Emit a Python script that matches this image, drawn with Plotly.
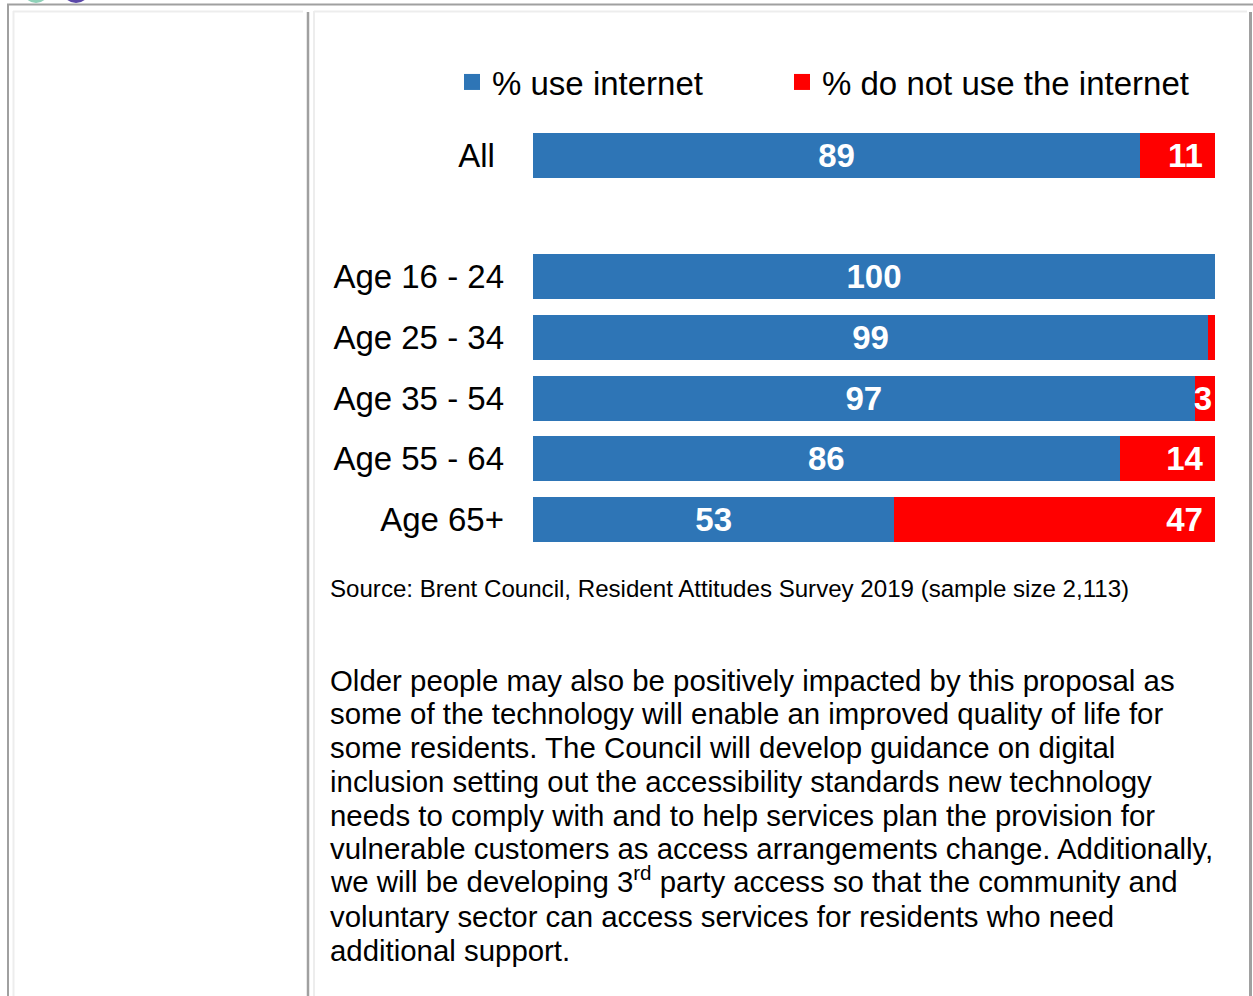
import plotly.graph_objects as go

# ---- data ----
categories = ["All", "Age 16 - 24", "Age 25 - 34", "Age 35 - 54", "Age 55 - 64", "Age 65+"]
row_pos = [0, 2, 3, 4, 5, 6]          # blank slot between "All" and the age bands
use_internet = [89, 100, 99, 97, 86, 53]
no_internet = [11, 0, 1, 3, 14, 47]
series_names = ["% use internet", "% do not use the internet"]

source_note = "Source: Brent Council, Resident Attitudes Survey 2019 (sample size 2,113)"
body_lines = [
    "Older people may also be positively impacted by this proposal as",
    "some of the technology will enable an improved quality of life for",
    "some residents. The Council will develop guidance on digital",
    "inclusion setting out the accessibility standards new technology",
    "needs to comply with and to help services plan the provision for",
    "vulnerable customers as access arrangements change. Additionally,",
    "we will be developing 3<sup>rd</sup> party access so that the community and",
    "voluntary sector can access services for residents who need",
    "additional support.",
]

# ---- page geometry ----
W, H = 1253, 996
FONT = "Arial, Liberation Sans, sans-serif"
BLUE = "#2E75B6"
RED = "#FF0000"
NBSP = "\u00a0"


def px(x):
    return x / W


def py(y):
    return 1 - y / H


def blue_label(v):
    return str(v)


def red_label(v):
    if v <= 1:
        return ""
    return str(v) if v < 10 else str(v) + NBSP


fig = go.Figure()

fig.add_trace(go.Bar(
    y=row_pos, x=use_internet, orientation="h", name=series_names[0],
    marker=dict(color=BLUE, line=dict(width=0)), width=0.742,
    text=[blue_label(v) for v in use_internet], textposition="inside",
    insidetextanchor="middle", textangle=0,
    textfont=dict(family=FONT, size=33, color="white", weight="bold"),
    showlegend=False, hoverinfo="skip", cliponaxis=False,
))
fig.add_trace(go.Bar(
    y=row_pos, x=no_internet, orientation="h", name=series_names[1],
    marker=dict(color=RED, line=dict(width=0)), width=0.742,
    text=[red_label(v) for v in no_internet], textposition="inside",
    insidetextanchor="end", textangle=0,
    textfont=dict(family=FONT, size=33, color="white", weight="bold"),
    showlegend=False, hoverinfo="skip", cliponaxis=False,
))

# legend entries (square swatches)
for name, col, lg in [(series_names[0], BLUE, "legend"), (series_names[1], RED, "legend2")]:
    fig.add_trace(go.Scatter(
        x=[None], y=[None], mode="markers", name=name, legend=lg,
        marker=dict(symbol="square", size=16, color=col),
        hoverinfo="skip",
    ))

fig.update_layout(
    width=W, height=H,
    margin=dict(l=0, r=0, t=0, b=0),
    paper_bgcolor="white", plot_bgcolor="white",
    barmode="stack", bargap=0,
    uniformtext=dict(minsize=33, mode="show"),
    font=dict(family=FONT, color="black"),
    xaxis=dict(domain=[px(533), px(1215)], range=[0, 100], visible=False, fixedrange=True),
    yaxis=dict(
        domain=[py(549.83), py(125.17)], range=[6.5, -0.5],
        tickvals=row_pos,
        ticktext=[c + NBSP if c == "All" else c for c in categories],
        tickfont=dict(family=FONT, size=33, color="black"),
        ticks="", showgrid=False, zeroline=False, showline=False,
        ticklabelstandoff=28, fixedrange=True,
    ),
    legend=dict(
        x=px(452), y=py(82), xanchor="left", yanchor="middle",
        orientation="h", font=dict(family=FONT, size=33, color="black"),
        bgcolor="rgba(0,0,0,0)", borderwidth=0,
    ),
    legend2=dict(
        x=px(782), y=py(82), xanchor="left", yanchor="middle",
        orientation="h", font=dict(family=FONT, size=33, color="black"),
        bgcolor="rgba(0,0,0,0)", borderwidth=0,
    ),
)

# ---- page frame: outer box, column divider, light cell borders ----
DARK = "#A0A0A0"
LIGHT = "#EDEDED"
frame = [
    (7, 4.5, W, 4.5, DARK, 2),
    (8, 4, 8, H, DARK, 2),
    (1250.5, 12, 1250.5, H, DARK, 3),
    (308, 12, 308, H, DARK, 2.5),
    (13, 11.5, 303, 11.5, LIGHT, 2),
    (314, 11.5, 1247, 11.5, LIGHT, 2),
    (13.5, 11, 13.5, H, LIGHT, 2),
    (314, 11, 314, H, LIGHT, 2),
]
for x0, y0, x1, y1, col, w in frame:
    fig.add_shape(type="line", xref="paper", yref="paper",
                  x0=px(x0), y0=py(y0), x1=px(x1), y1=py(y1),
                  line=dict(color=col, width=w), layer="above")

# logo edge peeking in at the top of the page
for x0, x1, col in [(23, 49, "#8FD1B8"), (62, 90, "#5A47A8")]:
    fig.add_shape(type="circle", xref="paper", yref="paper",
                  x0=px(x0), x1=px(x1), y0=py(3), y1=py(3 - (x1 - x0)),
                  fillcolor=col, line=dict(width=0), layer="above")

# ---- source note and body text ----
fig.add_annotation(text=source_note, xref="paper", yref="paper",
                   x=px(328), y=py(588), xanchor="left", yanchor="middle",
                   showarrow=False, font=dict(family=FONT, size=24.1, color="black"))

for i, line in enumerate(body_lines):
    yc = 680 + i * 33.75
    if "<sup>" in line:
        yc -= 3  # superscript makes the text box taller; keep the baseline on the grid
    fig.add_annotation(text=line, xref="paper", yref="paper",
                       x=px(328), y=py(yc), xanchor="left", yanchor="middle",
                       showarrow=False, font=dict(family=FONT, size=29.4, color="black"))

fig.write_html("out.html", config={"displayModeBar": False, "staticPlot": True})
